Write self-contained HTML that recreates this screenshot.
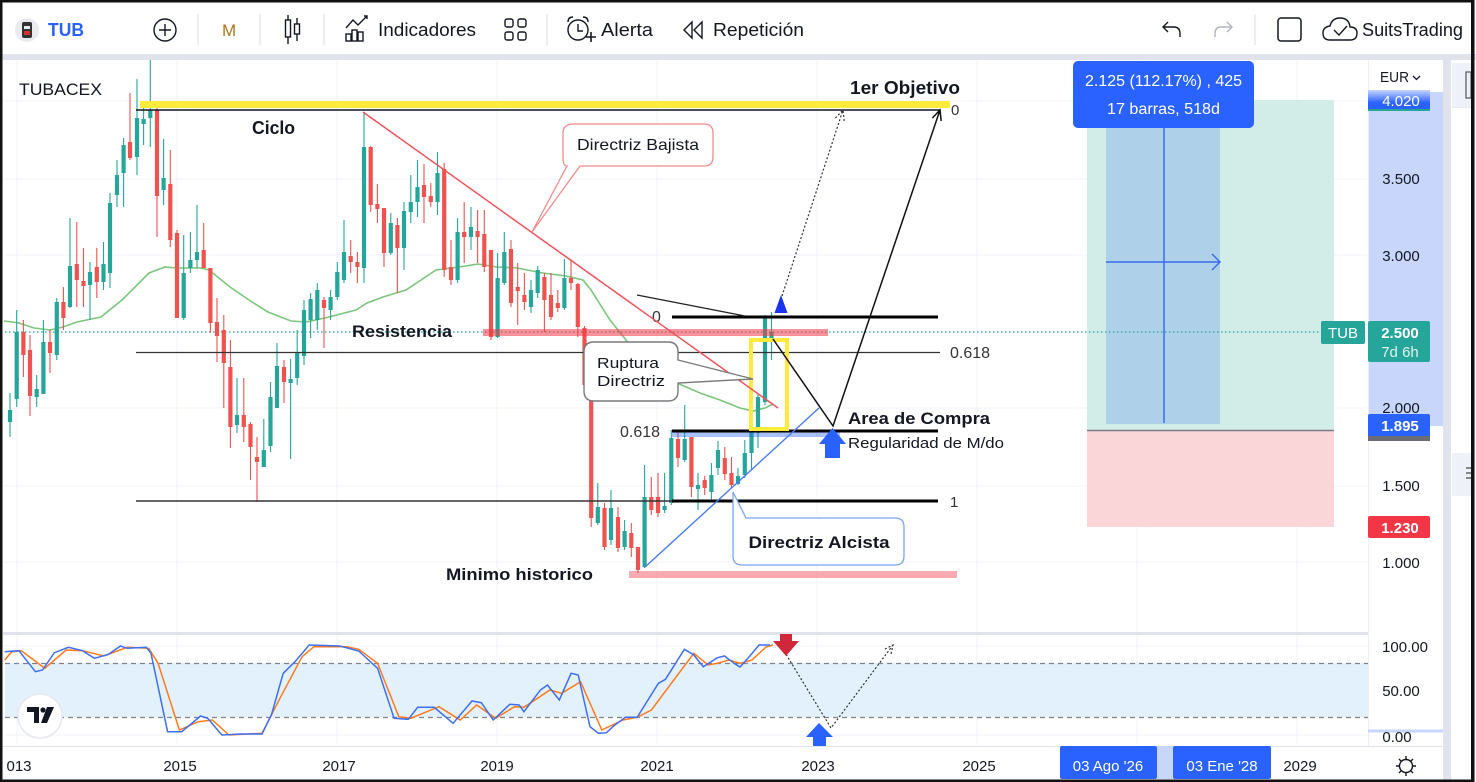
<!DOCTYPE html>
<html><head><meta charset="utf-8"><style>
html,body{margin:0;padding:0;background:#fff;width:1476px;height:782px;overflow:hidden}
svg{display:block}
text{font-family:"Liberation Sans",sans-serif}
</style></head><body>
<svg width="1476" height="782" viewBox="0 0 1476 782" xmlns="http://www.w3.org/2000/svg">
<defs>
<linearGradient id="g4020" x1="0" y1="0" x2="0" y2="1"><stop offset="0" stop-color="#c9d6ff"/><stop offset="0.6" stop-color="#2962ff"/><stop offset="1" stop-color="#2962ff"/></linearGradient>
</defs>
<rect x="0" y="0" width="1476" height="782" fill="#fff"/>
<rect x="0" y="54" width="1476" height="6" fill="#e0e3eb"/>
<rect x="1443" y="60" width="8" height="722" fill="#e0e3eb"/>
<rect x="1451" y="60" width="20" height="722" fill="#fff"/>
<rect x="1452" y="63" width="19" height="44" fill="#eef1f8"/>
<rect x="1466" y="72" width="5" height="26" fill="none" stroke="#555" stroke-width="1.2"/>
<rect x="1452" y="107" width="19" height="1" fill="#e8ebf1"/>
<rect x="1452" y="453" width="19" height="43" fill="#eef1f8"/>
<rect x="1466" y="467" width="5" height="2" fill="#888"/><rect x="1466" y="472" width="5" height="2" fill="#888"/><rect x="1466" y="477" width="5" height="2" fill="#888"/>

<!-- ===== TOOLBAR ===== -->
<circle cx="27" cy="30" r="12" fill="#e9ebf0"/>
<rect x="22" y="22" width="10" height="16" rx="2" fill="#333"/>
<rect x="24" y="26" width="6" height="3" fill="#e9ebf0"/><rect x="24" y="31" width="6" height="4" fill="#c33"/>
<text x="48" y="36" font-size="18" font-weight="bold" fill="#2962ff" textLength="36" lengthAdjust="spacingAndGlyphs">TUB</text>
<circle cx="165" cy="30" r="11" fill="none" stroke="#131722" stroke-width="1.4"/>
<path d="M159 30H171M165 24V36" stroke="#131722" stroke-width="1.4"/>
<g stroke="#e0e3eb" stroke-width="1.2"><path d="M198 14V45M260 14V45M324 14V45M547 14V45M1255 14V45"/></g>
<text x="222" y="36" font-size="17" fill="#a8741f">M</text>
<g stroke="#131722" stroke-width="1.4" fill="none">
<path d="M288 15V44M297 18V41"/><rect x="285.5" y="20" width="5" height="17" fill="#fff"/><rect x="294.5" y="24" width="5" height="10" fill="#fff"/>
<path d="M346 28L353 20L358 25L367 16"/><path d="M364 16H367V19"/>
<rect x="346" y="34" width="5" height="7"/><rect x="352" y="30" width="5" height="11"/><rect x="358" y="32" width="5" height="9"/>
<rect x="505" y="19" width="8" height="8" rx="2"/><rect x="518" y="19" width="8" height="8" rx="2"/><rect x="505" y="32" width="8" height="8" rx="2"/><rect x="518" y="32" width="8" height="8" rx="2"/>
<circle cx="578" cy="30" r="10"/><path d="M568 22Q568 17 573 17M588 22Q588 17 583 17M578 24V31H583"/><path d="M586 37H596M591 32V42" stroke-width="1.6"/>
<path d="M692 22L684 30L692 38ZM702 22L694 30L702 38Z"/>
<path d="M1168 22L1163 27L1168 32M1163 27H1174Q1180 27 1180 34V37"/>
</g>
<path d="M1227 22L1232 27L1227 32M1232 27H1221Q1215 27 1215 34V37" stroke="#b2b5be" stroke-width="1.4" fill="none"/>
<text x="378" y="36" font-size="18" fill="#131722" textLength="98" lengthAdjust="spacingAndGlyphs">Indicadores</text>
<text x="601" y="36" font-size="18" fill="#131722" textLength="52" lengthAdjust="spacingAndGlyphs">Alerta</text>
<text x="713" y="36" font-size="18" fill="#131722" textLength="91" lengthAdjust="spacingAndGlyphs">Repetición</text>
<rect x="1278" y="18" width="23" height="23" rx="3" fill="none" stroke="#131722" stroke-width="1.5"/>
<path d="M1330 40H1350Q1357 40 1357 33Q1357 27 1350 27Q1349 18 1340 18Q1332 18 1330 26Q1323 27 1323 33Q1323 40 1330 40Z" fill="none" stroke="#131722" stroke-width="1.4"/>
<path d="M1334 30L1339 35L1347 26" fill="none" stroke="#131722" stroke-width="1.4"/>
<text x="1362" y="36" font-size="18" fill="#131722" textLength="101" lengthAdjust="spacingAndGlyphs">SuitsTrading</text>

<!-- ===== MAIN PANE ===== -->
<g stroke="#f0f3fa" stroke-width="1">
<path d="M5 101H1368M5 179H1368M5 255H1368M5 332H1368M5 408H1368M5 486H1368M5 562H1368"/>
<path d="M17 60V633M177 60V633M337 60V633M497 60V633M657 60V633M817 60V633M977 60V633M1137 60V633M1297 60V633"/>
<path d="M17 636V745M177 636V745M337 636V745M497 636V745M657 636V745M817 636V745M977 636V745M1137 636V745M1297 636V745"/>
<path d="M5 646H1368M5 691H1368M5 735H1368"/>
</g>

<rect x="1087" y="100" width="247" height="330" fill="#d2ede7"/>
<rect x="1087" y="431" width="247" height="96" fill="#fbd6d9"/>
<rect x="1106" y="100" width="114" height="324" fill="#aed0e9"/>
<path d="M1087 430.5H1334" stroke="#787b86" stroke-width="1.5"/>
<path d="M1164 127V423M1106 262H1220M1212 254L1220 262L1212 270" stroke="#3a6ee8" stroke-width="1.5" fill="none"/>
<rect x="1073" y="61" width="181" height="67" rx="5" fill="#2962ff"/>
<text x="1163.5" y="86" font-size="16" fill="#fff" text-anchor="middle" textLength="157" lengthAdjust="spacingAndGlyphs">2.125 (112.17%) , 425</text>
<text x="1163.5" y="114" font-size="16" fill="#fff" text-anchor="middle" textLength="113" lengthAdjust="spacingAndGlyphs">17 barras, 518d</text>

<path d="M5 332H1321" stroke="#26a69a" stroke-width="1.3" stroke-dasharray="1.5 2.5"/>

<polyline fill="none" stroke="#7cc67c" stroke-width="1.6" points="4,321 19,323 34,328 50,330 63,327 77,322 101,317 122,300 149,273 165,267 176,268 201,268 209,270 230,287 249,300 268,312 291,321 306,322 325,318 356,310 367,303 383,297 406,290 436,270 459,267 478,264 497,267 517,268 543,273 566,276 583,280 591,290 610,320 630,345 653,370 670,380 700,393 720,400 740,408 753,411 765,408 773,404"/>

<path fill="none" stroke="#26a69a" stroke-width="1.1" d="M10 393V437M16.7 310V407M36.7 375V407M43.4 320V394M56.8 298V360M70 218V308M90 262V320M103.5 242V290M110 193V288M117 160V207M123.6 138V207M137 79V175M143.6 102V145M150.3 60V147M163.6 139V205M183.7 235V320M190.4 232V273M197 205V268M237 378V433M263.8 419V467M270.5 382V452M277 343V408M290.6 359V459M297.2 330V385M304 300V365M310.6 293V338M317.3 283V330M330.6 290V320M337.3 262V300M344 220V283M364 112V283M390.8 213V255M404 202V270M410.8 175V223M417.5 160V217M437.5 152V215M457.6 218V283M471 207V250M497.6 253V338M504.3 232V285M531 280V313M537.7 266V298M564.4 259V310M597.8 483V525M611 490V545M624.6 520V550M644.6 465V568M664.6 473V513M671.3 430V505M684.7 405V462M698 473V510M711.4 463V502M718 441V475M738 468V485M744.8 440V478M751.5 410V470M758 393V448M765 315V405M771.5 312V360"/>
<path fill="none" stroke="#26a69a" stroke-width="4.2" d="M10 410V422M16.7 332V399M36.7 389V397M43.4 342V394M56.8 302V355M70 266V307M90 272V285M103.5 264V282M110 203V273M117 175V195M123.6 145V173M137 118V157M143.6 119V124M150.3 110V118M163.6 178V190M183.7 273V318M190.4 260V268M197 252V260M237 415V425M263.8 450V467M270.5 397V446M277 366V408M290.6 379V383M297.2 353V378M304 310V356M310.6 299V320M317.3 290V320M330.6 297V310M337.3 272V297M344 252V280M364 147V268M390.8 223V253M404 211V248M410.8 202V212M417.5 187V202M437.5 173V202M457.6 232V280M471 227V237M497.6 278V337M504.3 252V283M531 290V307M537.7 270V293M564.4 278V308M597.8 507V523M611 508V540M624.6 531V547M644.6 497V567M664.6 506V510M671.3 438V503M684.7 439V460M698 485V489M711.4 475V492M718 450V468M738 476V484M744.8 453V475M751.5 432V453M758 397V433M765 317V402M771.5 332V340"/>
<path fill="none" stroke="#ef5350" stroke-width="1.1" d="M23.4 320V377M30 335V416M50 330V373M63.4 287V330M76.8 222V307M83.5 248V307M96.8 248V298M130 93V160M157 107V237M170.3 150V247M177 230V318M203.7 223V268M210.4 268V333M217 298V362M223.8 315V408M230.4 340V448M243.8 378V442M250.5 422V480M257 437V502M284 360V403M324 297V348M350.7 240V273M357.4 252V283M370.7 146V212M377.4 184V223M384 208V267M397.4 218V293M424 164V223M430.8 183V207M444.2 163V277M451 240V285M464.2 202V263M477.6 210V263M484.3 210V272M491 250V340M511 240V307M517.7 263V325M524.4 273V310M544.4 273V332M551 273V320M557.8 290V312M571 259V290M577.8 283V337M584.5 326V390M591.2 380V527M604.5 503V550M618 507V552M631.3 523V557M638 547V573M651.3 477V515M658 473V517M678 430V467M691.4 437V497M704.7 476V495M724.8 447V480M731.5 457V488"/>
<path fill="none" stroke="#ef5350" stroke-width="4.2" d="M23.4 332V355M30 350V396M50 342V353M63.4 302V318M76.8 264V280M83.5 281V286M96.8 267V282M130 142V158M157 110V196M170.3 184V240M177 233V318M203.7 250V268M210.4 268V323M217 322V336M223.8 330V363M230.4 367V427M243.8 415V427M250.5 424V447M257 457V462M284 367V382M324 300V308M350.7 256V262M357.4 262V267M370.7 147V205M377.4 204V209M384 208V253M397.4 225V248M424 185V197M430.8 196V202M444.2 169V270M451 267V280M464.2 232V237M477.6 231V237M484.3 234V267M491 250V337M511 249V303M517.7 287V291M524.4 295V302M544.4 277V300M551 295V317M557.8 303V308M571 278V283M577.8 284V327M584.5 328V385M591.2 385V518M604.5 508V547M618 517V548M631.3 533V548M638 547V570M651.3 497V510M658 497V513M678 439V458M691.4 437V487M704.7 480V488M724.8 458V474M731.5 473V485"/>

<rect x="140" y="101" width="810" height="7" fill="#ffeb3b"/>
<rect x="483" y="329" width="345" height="7" fill="#f23645" fill-opacity="0.55"/>
<rect x="629" y="571" width="328" height="7" fill="#f23645" fill-opacity="0.42"/>
<rect x="672" y="431" width="168" height="6" fill="#2962ff" fill-opacity="0.4"/>

<path d="M136 110H940" stroke="#131722" stroke-width="1.6"/>
<path d="M136 352.5H940" stroke="#333" stroke-width="1.3"/>
<path d="M136 501H672" stroke="#333" stroke-width="1.6"/>
<path d="M672 317H938M672 431H938M672 501H938" stroke="#000" stroke-width="3"/>
<text x="951" y="115" font-size="15" fill="#333">0</text>
<text x="950" y="358" font-size="16" fill="#333" textLength="40" lengthAdjust="spacingAndGlyphs">0.618</text>
<text x="950" y="507" font-size="15" fill="#333">1</text>
<text x="652" y="322" font-size="16" fill="#333">0</text>
<text x="620" y="437" font-size="16" fill="#333" textLength="40" lengthAdjust="spacingAndGlyphs">0.618</text>

<rect x="751" y="340" width="36" height="89" fill="none" stroke="#ffeb3b" stroke-width="4"/>

<path d="M363 112L778 408" stroke="#f0525a" stroke-width="1.5"/>
<path d="M645 567L819 408" stroke="#4a7cf0" stroke-width="1.4"/>
<path d="M637 295L745 316" stroke="#222" stroke-width="1.2"/>
<path d="M773 339L833 426L940 110M932.4 118L940 110L941.2 121" stroke="#111" stroke-width="1.5" fill="none"/>
<path d="M782 296L843 110M835.4 118L843 110L844.2 121" stroke="#333" stroke-width="1.2" stroke-dasharray="2 2" fill="none"/>

<path d="M781 295L787.5 313H774.5Z" fill="#1a33f0"/>
<path d="M832.5 428L846 444H840V458H825V444H819Z" fill="#2962ff"/>

<path d="M574 124H704Q713 124 713 133V157Q713 166 704 166H580L532 232L567 166Q563 166 563 157V133Q563 124 574 124Z" fill="#fff" stroke="#f28b8b" stroke-width="1.3"/>
<text x="638" y="150" font-size="16" fill="#131722" text-anchor="middle" textLength="122" lengthAdjust="spacingAndGlyphs">Directriz Bajista</text>
<path d="M594 342H668Q678 342 678 352V360L753 379L678 383V391Q678 401 668 401H594Q584 401 584 391V352Q584 342 594 342Z" fill="#fff" stroke="#7a7a7a" stroke-width="1.4"/>
<text x="597" y="368" font-size="15" fill="#131722" textLength="62" lengthAdjust="spacingAndGlyphs">Ruptura</text>
<text x="597" y="386" font-size="15" fill="#131722" textLength="68" lengthAdjust="spacingAndGlyphs">Directriz</text>
<path d="M733 492L746 518H895Q904 518 904 527V556Q904 565 895 565H742Q733 565 733 556Z" fill="#fff" stroke="#7aa5f7" stroke-width="1.3"/>
<text x="819" y="548" font-size="17" font-weight="bold" fill="#131722" text-anchor="middle" textLength="141" lengthAdjust="spacingAndGlyphs">Directriz Alcista</text>

<text x="19" y="95" font-size="17" fill="#131722" textLength="83" lengthAdjust="spacingAndGlyphs">TUBACEX</text>
<text x="850" y="94" font-size="18" font-weight="bold" fill="#131722" textLength="110" lengthAdjust="spacingAndGlyphs">1er Objetivo</text>
<text x="252" y="134" font-size="18" font-weight="bold" fill="#131722" textLength="43" lengthAdjust="spacingAndGlyphs">Ciclo</text>
<text x="352" y="337" font-size="17" font-weight="bold" fill="#131722" textLength="100" lengthAdjust="spacingAndGlyphs">Resistencia</text>
<text x="848" y="424" font-size="17" font-weight="bold" fill="#131722" textLength="142" lengthAdjust="spacingAndGlyphs">Area de Compra</text>
<text x="848" y="448" font-size="15" fill="#131722" textLength="156" lengthAdjust="spacingAndGlyphs">Regularidad de M/do</text>
<text x="446" y="580" font-size="17" font-weight="bold" fill="#131722" textLength="147" lengthAdjust="spacingAndGlyphs">Minimo historico</text>

<!-- ===== OSCILLATOR ===== -->
<rect x="3" y="632" width="1440" height="3" fill="#e0e3eb"/>
<rect x="5" y="663" width="1363" height="54" fill="#e3f1fc"/>
<path d="M5 663.5H1368M5 717.5H1368" stroke="#80838d" stroke-width="1.3" stroke-dasharray="5 4"/>
<polyline fill="none" stroke="#ff7a1a" stroke-width="1.5" points="4.7,660 11.8,651.7 21.2,650.7 44.8,668.3 66.1,650 82.6,650.7 103.8,656 127.4,647.3 148.7,648.3 158.1,663.3 179.4,730 198.2,721.7 212.4,720 228.9,735 262,733.3 280.8,696.7 302.1,656.7 313.9,646.7 346.9,646.7 358.7,649.3 377.6,663.3 398.8,716.7 410.6,718.3 439,706.7 460.2,720 476.7,705 495.6,718.3 514.5,706.7 523.9,707.3 549.9,690 561.7,693.3 580.6,681.7 601.8,730 623,720 637.2,717.3 651.4,710 693.8,653.3 708,665 717.4,663.3 729.2,660 740,663.3 752,660 766,647 773,645"/>
<polyline fill="none" stroke="#3f6ff5" stroke-width="1.5" points="4.7,651.7 18.9,650.7 35.4,671.7 42.5,670 54.3,652.7 68.4,647.3 82.6,650.7 94.4,658.3 108.6,654.3 120.4,646 127.4,648.3 146.3,647.3 151,653.3 167.6,731.7 181.7,731.7 200.6,716 207.7,718.3 221.8,735 240.7,734 262,734 271.4,715 283.2,673.3 295,661.7 309.2,645 339.8,646 358.7,651 377.6,668.3 394.1,718.3 408.3,719.3 417.7,707.3 434.2,707.3 453.1,723.3 472,701 481.4,702.7 493.2,720 509.8,704.3 519.2,705 523.9,711.7 540.4,690 547.5,685 559.3,700 571.1,673.3 578.2,675 590,726.7 598.5,733.3 606.5,732.7 613.6,726 625.4,717.3 637.2,717.3 658.4,683.3 665.5,679.3 684.4,649.3 693.8,655 703.3,666.7 717.4,657.7 724.5,656 734,663.3 740,667 749,657 759,645 770,645"/>
<path d="M784 651L831 728L893 645M885 649L893 645L891 654" fill="none" stroke="#333" stroke-width="1.2" stroke-dasharray="2 2"/>
<path d="M780 634H792V641H799L786 656L773 641H780Z" fill="#d0283a"/>
<path d="M819 723L833 737H826V746H813V737H806Z" fill="#2962ff"/>
<circle cx="40" cy="716" r="22" fill="#fff" stroke="#e6e8ee" stroke-width="1.5"/>
<path d="M27 707H39V723H34V712H27Z" fill="#131722"/>
<circle cx="43" cy="710" r="2.6" fill="#131722"/>
<path d="M47 707H54L47 723H41Z" fill="#131722"/>

<!-- ===== PRICE AXIS ===== -->
<rect x="1368" y="60" width="75" height="686" fill="#fff"/>
<path d="M1368.5 60V746" stroke="#eceef2" stroke-width="1"/>
<rect x="1369" y="92" width="74" height="334" fill="#c9d6fb"/>
<path d="M1368 731H1443" stroke="#c9d6fb" stroke-width="3"/>
<text x="1380" y="82" font-size="15" fill="#131722" textLength="29" lengthAdjust="spacingAndGlyphs">EUR</text>
<path d="M1413 76L1416.5 79.5L1420 76" stroke="#131722" stroke-width="1.3" fill="none"/>
<rect x="1368" y="90" width="62" height="21" fill="url(#g4020)"/>
<rect x="1368" y="109" width="62" height="2" fill="#26a69a"/>
<text x="1401" y="106" font-size="15" fill="#fff" text-anchor="middle">4.020</text>
<g font-size="15" fill="#131722" text-anchor="middle">
<text x="1401" y="184">3.500</text>
<text x="1401" y="261">3.000</text>
<text x="1401" y="413">2.000</text>
<text x="1401" y="491">1.500</text>
<text x="1401" y="568">1.000</text>
<text x="1405" y="652">100.00</text>
<text x="1401" y="696">50.00</text>
<text x="1397" y="742">0.00</text>
</g>
<rect x="1321" y="321" width="44" height="23" rx="2" fill="#26a69a"/>
<text x="1343" y="338" font-size="15" fill="#fff" text-anchor="middle">TUB</text>
<rect x="1368" y="321" width="62" height="41" rx="2" fill="#26a69a"/>
<text x="1400" y="338" font-size="15" fill="#fff" text-anchor="middle" font-weight="bold">2.500</text>
<text x="1400" y="357" font-size="15" fill="#dff3ef" text-anchor="middle">7d 6h</text>
<rect x="1368" y="435" width="62" height="6" fill="#6a6d78"/>
<rect x="1368" y="414" width="62" height="22" rx="2" fill="#2962ff"/>
<text x="1400" y="431" font-size="15" fill="#fff" text-anchor="middle" font-weight="bold">1.895</text>
<rect x="1368" y="516" width="62" height="22" rx="2" fill="#f23645"/>
<text x="1400" y="533" font-size="15" fill="#fff" text-anchor="middle" font-weight="bold">1.230</text>

<!-- ===== TIME AXIS ===== -->
<path d="M3 746.5H1443" stroke="#e0e3eb" stroke-width="1"/>
<g font-size="15" fill="#131722" text-anchor="middle">
<text x="19" y="771">013</text>
<text x="180" y="771">2015</text>
<text x="339" y="771">2017</text>
<text x="497" y="771">2019</text>
<text x="657" y="771">2021</text>
<text x="818" y="771">2023</text>
<text x="979" y="771">2025</text>
<text x="1300" y="771">2029</text>
</g>
<rect x="1157" y="746" width="16" height="33" fill="#c9d6fb"/>
<rect x="1060" y="746" width="97" height="33" rx="2" fill="#2962ff"/>
<rect x="1173" y="746" width="98" height="33" rx="2" fill="#2962ff"/>
<text x="1108" y="771" font-size="15" fill="#fff" text-anchor="middle">03 Ago '26</text>
<text x="1222" y="771" font-size="15" fill="#fff" text-anchor="middle">03 Ene '28</text>
<circle cx="1406" cy="766" r="6.5" fill="none" stroke="#131722" stroke-width="1.4"/>
<path d="M1406 756V759M1406 773V776M1396 766H1399M1413 766H1416M1399 759L1401 761M1411 771L1413 773M1413 759L1411 761M1399 773L1401 771" stroke="#131722" stroke-width="1.4"/>

<rect x="1.25" y="1.25" width="1472" height="779.5" fill="none" stroke="#111" stroke-width="2.5"/>
<path d="M1472.5 0V782" stroke="#111" stroke-width="3"/>
</svg>
</body></html>
